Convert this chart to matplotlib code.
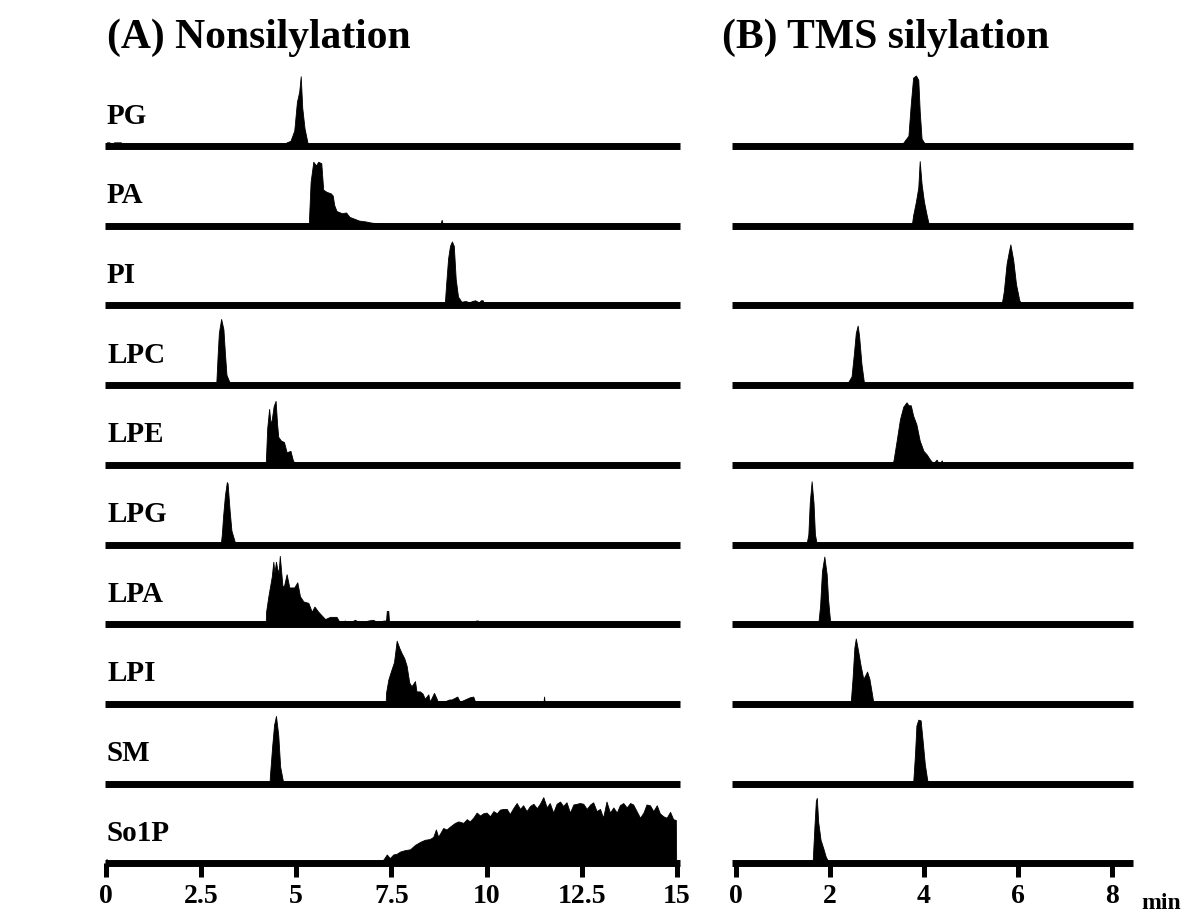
import matplotlib
matplotlib.use("Agg")
import matplotlib.pyplot as plt

plt.rcParams["font.family"] = ["Liberation Serif", "DejaVu Serif"]
plt.rcParams["font.weight"] = "bold"

labels = ["PG", "PA", "PI", "LPC", "LPE", "LPG", "LPA", "LPI", "SM", "So1P"]

# ---- (A) Nonsilylation : time (min), relative intensity ----
pg_a_t = [0.0, 0.03, 0.1, 0.15, 0.22, 0.3, 0.4, 0.42, 4.7, 4.75, 4.85, 4.95, 5.02, 5.08, 5.12, 5.16, 5.22, 5.3, 5.35,
          5.68, 5.72, 5.76, 7.25, 7.29, 7.33]
pg_a_y = [0, 5, 5, 2, 5, 5, 5, 0, 0, 5, 7, 21, 60, 74, 95, 52, 24, 4, 0,
          0, 4, 0, 0, 4, 0]

pa_a_t = [5.33, 5.38, 5.45, 5.52, 5.58, 5.66, 5.71, 5.8, 5.91, 5.96, 6.0, 6.06, 6.2, 6.31, 6.4, 6.5, 6.65, 6.8, 7.0,
          7.3, 7.5, 7.8, 8.0, 8.78, 8.82, 8.86, 13.68, 13.72, 13.76]
pa_a_y = [0, 60, 87, 82, 87, 85, 49, 46, 44, 41, 28, 20, 17, 18, 12, 10, 7, 6, 4,
          3, 2, 3, 0, 0, 8, 0, 0, 3, 0]

pi_a_t = [8.9, 8.94, 8.99, 9.04, 9.09, 9.14, 9.19, 9.25, 9.34, 9.45, 9.55, 9.62, 9.7, 9.8, 9.85, 9.9, 9.93]
pi_a_y = [0, 30, 64, 81, 87, 81, 36, 12, 5, 6, 4, 6, 7, 4, 7, 7, 0]

lpc_a_t = [2.9, 2.94, 2.97, 3.03, 3.09, 3.13, 3.17, 3.24, 3.28]
lpc_a_y = [0, 43, 71, 90, 76, 43, 14, 5, 0]

lpe_a_t = [4.2, 4.24, 4.29, 4.33, 4.36, 4.41, 4.46, 4.5, 4.53, 4.6, 4.68, 4.75, 4.85, 4.92, 5.02, 5.05]
lpe_a_y = [0, 50, 76, 55, 62, 80, 87, 55, 38, 33, 31, 17, 19, 5, 2, 0]

lpg_a_t = [3.02, 3.05, 3.08, 3.13, 3.18, 3.2, 3.25, 3.3, 3.38, 3.41]
lpg_a_y = [0, 15, 38, 67, 85, 83, 48, 19, 5, 0]

lpa_a_t = [4.2, 4.21, 4.27, 4.36, 4.4, 4.43, 4.47, 4.5, 4.54, 4.57, 4.64, 4.68, 4.75, 4.82, 4.88, 4.95, 5.03, 5.1,
           5.19, 5.32, 5.41, 5.48, 5.58, 5.67, 5.76, 5.89, 6.06, 6.15, 6.28, 6.41, 6.54, 6.68, 6.89, 7.02, 7.16,
           7.29, 7.36, 7.38, 7.42, 7.44, 7.68, 7.8, 8.3, 8.58, 8.79, 9.2, 9.7, 9.72, 9.78, 9.8]
lpa_a_y = [0, 17, 38, 65, 85, 70, 85, 76, 70, 93, 52, 52, 68, 50, 50, 50, 57, 38,
           31, 29, 17, 24, 17, 12, 7, 10, 10, 2, 5, 2, 6, 2, 5, 6, 2,
           5, 5, 18, 18, 2, 2, 2, 3, 3, 2, 2, 2, 5, 5, 0]

lpi_a_t = [7.35, 7.36, 7.42, 7.48, 7.57, 7.64, 7.71, 7.77, 7.84, 7.9, 7.97, 8.03, 8.12, 8.16, 8.25, 8.32, 8.38,
           8.47, 8.51, 8.62, 8.69, 8.73, 9.02, 9.08, 9.23, 9.3, 9.43, 9.56, 9.65, 9.72, 11.49, 11.51, 11.53]
lpi_a_y = [0, 15, 33, 43, 57, 86, 76, 69, 62, 52, 29, 24, 31, 17, 17, 14, 7,
           13, 3, 15, 7, 0, 6, 6, 10, 3, 6, 9, 10, 0, 0, 10, 0]

sm_a_t = [4.3, 4.31, 4.37, 4.42, 4.47, 4.53, 4.58, 4.65, 4.68]
sm_a_y = [0, 10, 51, 80, 92, 66, 23, 4, 0]

so1p_a_t = [0.0, 0.02, 0.06, 7.1, 7.11, 7.29, 7.38, 7.46, 7.55, 7.64, 7.73, 7.86, 7.99, 8.12, 8.25, 8.38, 8.51,
            8.6, 8.67, 8.73, 8.86, 8.95, 9.04, 9.17, 9.26, 9.39, 9.48, 9.56, 9.65, 9.74, 9.83, 9.91, 10.0,
            10.09, 10.18, 10.27, 10.35, 10.44, 10.53, 10.61, 10.7, 10.79, 10.88, 10.96, 11.05, 11.14, 11.23,
            11.32, 11.4, 11.49, 11.58, 11.66, 11.75, 11.84, 11.93, 12.01, 12.1, 12.19, 12.28, 12.37, 12.45,
            12.54, 12.63, 12.72, 12.8, 12.89, 12.98, 13.06, 13.15, 13.24, 13.33, 13.42, 13.5, 13.59, 13.68,
            13.77, 13.85, 13.94, 14.03, 14.12, 14.2, 14.29, 14.38, 14.47, 14.55, 14.64, 14.73, 14.82, 14.9,
            14.97, 14.98]
so1p_a_y = [0, 6, 0, 0, 2, 5, 12, 7, 12, 13, 16, 18, 19, 25, 29, 32, 33,
            36, 46, 36, 48, 46, 50, 55, 57, 55, 60, 57, 62, 69, 65, 68, 69,
            64, 71, 68, 73, 74, 74, 67, 75, 82, 74, 79, 71, 78, 81,
            75, 81, 90, 76, 82, 69, 81, 84, 78, 83, 69, 80, 81, 82,
            81, 74, 80, 83, 71, 74, 62, 84, 69, 76, 69, 79, 82, 76,
            82, 80, 71, 62, 69, 80, 79, 71, 79, 68, 64, 62, 70, 60,
            59, 0]

# ---- (B) TMS silylation ----
pg_b_t = [3.5, 3.53, 3.67, 3.72, 3.77, 3.83, 3.88, 3.91, 3.95, 4.02, 4.2, 4.23, 4.27]
pg_b_y = [0, 2, 14, 57, 93, 96, 90, 48, 10, 3, 2, 4, 0]

pa_b_t = [3.74, 3.77, 3.83, 3.88, 3.91, 3.95, 4.0, 4.06, 4.11]
pa_b_y = [0, 14, 33, 52, 88, 57, 33, 14, 0]

pi_b_t = [5.65, 5.7, 5.76, 5.81, 5.84, 5.9, 5.96, 6.03, 6.1]
pi_b_y = [0, 19, 57, 74, 83, 62, 29, 7, 0]

lpc_b_t = [2.35, 2.46, 2.51, 2.55, 2.59, 2.62, 2.67, 2.72, 2.77]
lpc_b_y = [0, 12, 43, 71, 81, 67, 29, 5, 0]

lpe_b_t = [3.28, 3.35, 3.42, 3.49, 3.56, 3.63, 3.67, 3.72, 3.77, 3.84, 3.91, 3.99, 4.06, 4.13, 4.2, 4.27, 4.32,
           4.38, 4.41]
lpe_b_y = [0, 5, 33, 62, 79, 85, 81, 81, 67, 55, 33, 19, 14, 7, 2, 7, 1,
           6, 0]

lpg_b_t = [1.5, 1.54, 1.57, 1.61, 1.65, 1.68, 1.72]
lpg_b_y = [0, 14, 57, 86, 57, 14, 0]

lpa_b_t = [1.75, 1.79, 1.83, 1.88, 1.93, 1.96, 2.0, 2.04]
lpa_b_y = [0, 25, 72, 92, 68, 34, 6, 0]

lpi_b_t = [2.44, 2.48, 2.52, 2.55, 2.6, 2.65, 2.71, 2.76, 2.79, 2.84, 2.89, 2.92, 2.93]
lpi_b_y = [0, 34, 77, 89, 72, 53, 34, 40, 44, 34, 15, 3, 0]

sm_b_t = [3.77, 3.81, 3.84, 3.88, 3.93, 3.97, 4.02, 4.07, 4.1]
sm_b_y = [0, 40, 79, 87, 86, 60, 26, 5, 0]

so1p_b_t = [1.63, 1.67, 1.7, 1.72, 1.75, 1.8, 1.86, 1.91, 1.96, 2.21, 2.25]
so1p_b_y = [0, 51, 85, 89, 56, 32, 20, 9, 3, 3, 0]

traces_a = [(pg_a_t, pg_a_y), (pa_a_t, pa_a_y), (pi_a_t, pi_a_y), (lpc_a_t, lpc_a_y), (lpe_a_t, lpe_a_y),
            (lpg_a_t, lpg_a_y), (lpa_a_t, lpa_a_y), (lpi_a_t, lpi_a_y), (sm_a_t, sm_a_y), (so1p_a_t, so1p_a_y)]
traces_b = [(pg_b_t, pg_b_y), (pa_b_t, pa_b_y), (pi_b_t, pi_b_y), (lpc_b_t, lpc_b_y), (lpe_b_t, lpe_b_y),
            (lpg_b_t, lpg_b_y), (lpa_b_t, lpa_b_y), (lpi_b_t, lpi_b_y), (sm_b_t, sm_b_y), (so1p_b_t, so1p_b_y)]

ticks_a = [0, 2.5, 5, 7.5, 10, 12.5, 15]
ticklabels_a = ["0", "2.5", "5", "7.5", "10", "12.5", "15"]
ticks_b = [0, 2, 4, 6, 8]
ticklabels_b = ["0", "2", "4", "6", "8"]

W, H = 1185, 915
fig = plt.figure(figsize=(W / 100, H / 100), dpi=100)


def px_axes(x0, x1, y_base, h=73.5):
    return fig.add_axes([x0 / W, 1 - y_base / H, (x1 - x0) / W, h / H])


def style(ax, xlim, last, ticks, ticklabels):
    ax.set_xlim(*xlim)
    ax.set_ylim(0, 100)
    for s in ["top", "left", "right"]:
        ax.spines[s].set_visible(False)
    ax.spines["bottom"].set_linewidth(5)
    ax.spines["bottom"].set_capstyle("butt")
    ax.set_yticks([])
    ax.patch.set_alpha(0)
    if last:
        ax.set_xticks(ticks)
        ax.set_xticklabels(ticklabels, fontsize=20, fontweight="bold")
        ax.tick_params(axis="x", direction="out", length=10, width=3.6, pad=5)
    else:
        ax.set_xticks([])


for i, lab in enumerate(labels):
    yb = 146 + i * 79.7
    last = i == len(labels) - 1

    ax = px_axes(105, 680, yb)
    t, y = traces_a[i]
    ax.fill_between(t, y, 0, color="black", lw=0.6)
    style(ax, (-0.02, 15.08), last, ticks_a, ticklabels_a)

    ax2 = px_axes(732, 1133, yb)
    t, y = traces_b[i]
    ax2.fill_between(t, y, 0, color="black", lw=0.6)
    style(ax2, (-0.085, 8.45), last, ticks_b, ticklabels_b)
    if last:
        ax2.text(1.02, -0.62, "min", transform=ax2.transAxes, fontsize=17,
                 fontweight="bold", ha="left", va="baseline")

    fig.text(107 / W, 1 - (yb - 30) / H, lab, fontsize=21, fontweight="bold",
             ha="left", va="center")

fig.text(107 / W, 1 - 38 / H, "(A) Nonsilylation", fontsize=30, fontweight="bold",
         ha="left", va="center")
fig.text(722 / W, 1 - 38 / H, "(B) TMS silylation", fontsize=30, fontweight="bold",
         ha="left", va="center")

fig.savefig("out.png", dpi=100)
